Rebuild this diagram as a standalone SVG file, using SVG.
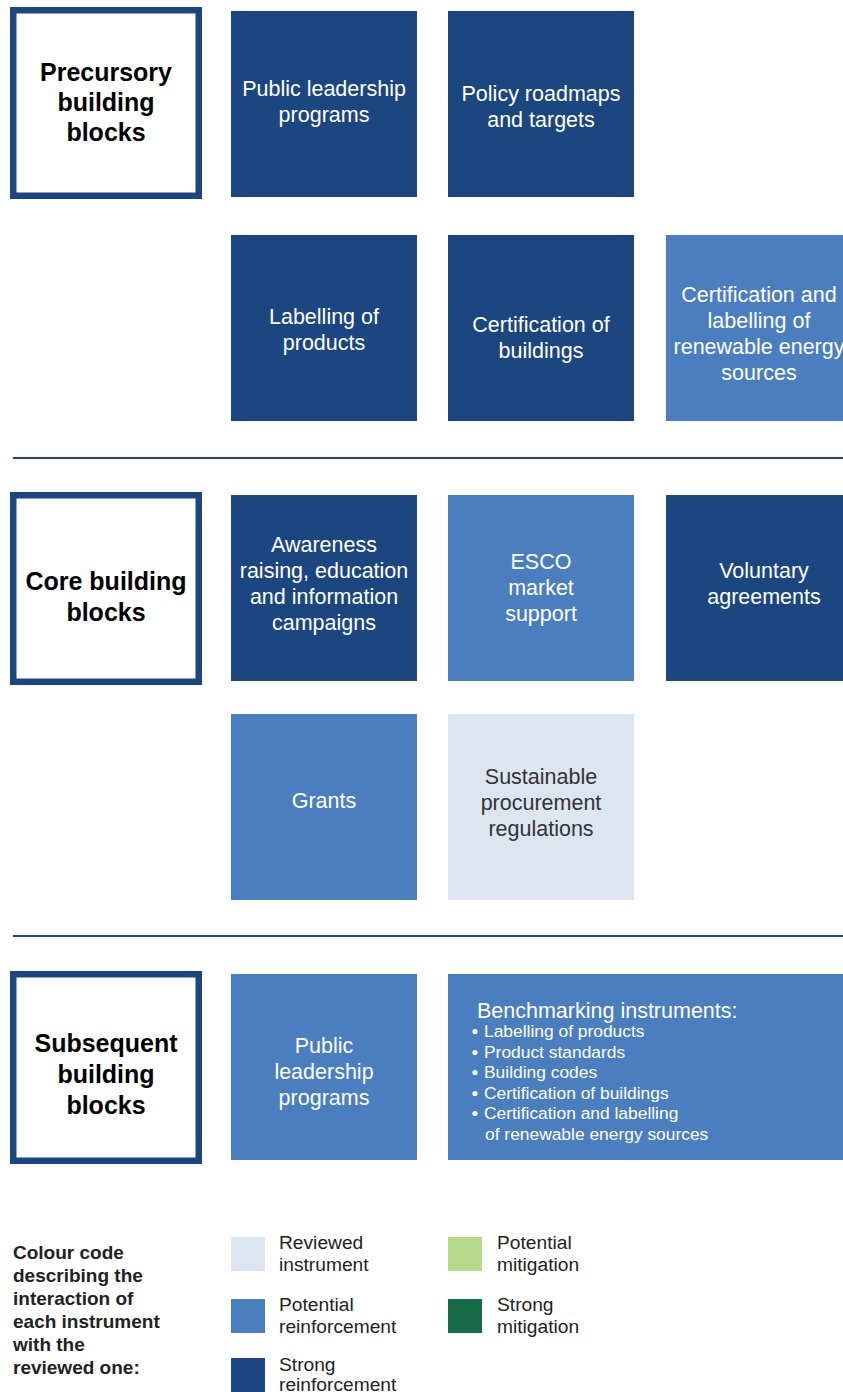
<svg xmlns="http://www.w3.org/2000/svg" width="843" height="1392" viewBox="0 0 843 1392">
<style>
.hdr{fill:#fff;stroke:#1c4680;stroke-width:6.5}
.dk{fill:#1c4680}
.md{fill:#4a7ebf}
.lt{fill:#dce6f1}
.lg{fill:#b8d98a}
.dg{fill:#156b46}
.sep{stroke:#1c4680;stroke-width:2}
text{font-family:"Liberation Sans",Arial,sans-serif}
.ht{font-size:25px;font-weight:bold;fill:#000;text-anchor:middle}
.bt{font-size:21.5px;fill:#fff;text-anchor:middle}
.btd{font-size:21.5px;fill:#333;text-anchor:middle}
.bl{font-size:17.4px;fill:#fff}
.lgl{font-size:19px;font-weight:bold;fill:#222}
.lgt{font-size:19.2px;fill:#222}
</style>
<rect width="843" height="1392" fill="#fff"/>
<g id="connectors">
<line class="sep" x1="13" y1="458" x2="843" y2="458"/>
<line class="sep" x1="13" y1="936" x2="843" y2="936"/>
</g>
<g id="hdr-precursory">
<rect class="hdr" x="13.25" y="10.25" width="185.5" height="185.5"/>
<text class="ht" x="106" y="81">Precursory</text>
<text class="ht" x="106" y="111">building</text>
<text class="ht" x="106" y="141">blocks</text>
</g>
<g id="n-public-leadership">
<rect class="dk" x="231" y="11" width="186" height="186"/>
<text class="bt" x="324" y="95.5">Public leadership</text>
<text class="bt" x="324" y="121.5">programs</text>
</g>
<g id="n-policy-roadmaps">
<rect class="dk" x="448" y="11" width="186" height="186"/>
<text class="bt" x="541" y="100.5">Policy roadmaps</text>
<text class="bt" x="541" y="126.5">and targets</text>
</g>
<g id="n-labelling-products">
<rect class="dk" x="231" y="235" width="186" height="186"/>
<text class="bt" x="324" y="323.5">Labelling of</text>
<text class="bt" x="324" y="349.5">products</text>
</g>
<g id="n-cert-buildings">
<rect class="dk" x="448" y="235" width="186" height="186"/>
<text class="bt" x="541" y="332">Certification of</text>
<text class="bt" x="541" y="358">buildings</text>
</g>
<g id="n-cert-res">
<rect class="md" x="666" y="235" width="186" height="186"/>
<text class="bt" x="759" y="302">Certification and</text>
<text class="bt" x="759" y="328">labelling of</text>
<text class="bt" x="759" y="354">renewable energy</text>
<text class="bt" x="759" y="380">sources</text>
</g>
<g id="hdr-core">
<rect class="hdr" x="13.25" y="495.25" width="185.5" height="186.5"/>
<text class="ht" x="106" y="590">Core building</text>
<text class="ht" x="106" y="621">blocks</text>
</g>
<g id="n-awareness">
<rect class="dk" x="231" y="495" width="186" height="186"/>
<text class="bt" x="324" y="552">Awareness</text>
<text class="bt" x="324" y="578">raising, education</text>
<text class="bt" x="324" y="604">and information</text>
<text class="bt" x="324" y="630">campaigns</text>
</g>
<g id="n-esco">
<rect class="md" x="448" y="495" width="186" height="186"/>
<text class="bt" x="541" y="569">ESCO</text>
<text class="bt" x="541" y="595">market</text>
<text class="bt" x="541" y="621">support</text>
</g>
<g id="n-voluntary">
<rect class="dk" x="666" y="495" width="186" height="186"/>
<text class="bt" x="764" y="578">Voluntary</text>
<text class="bt" x="764" y="604">agreements</text>
</g>
<g id="n-grants">
<rect class="md" x="231" y="714" width="186" height="186"/>
<text class="bt" x="324" y="807.5">Grants</text>
</g>
<g id="n-sustainable">
<rect class="lt" x="448" y="714" width="186" height="186"/>
<text class="btd" x="541" y="784">Sustainable</text>
<text class="btd" x="541" y="810">procurement</text>
<text class="btd" x="541" y="836">regulations</text>
</g>
<g id="hdr-subsequent">
<rect class="hdr" x="13.25" y="974.25" width="185.5" height="186.5"/>
<text class="ht" x="106" y="1052">Subsequent</text>
<text class="ht" x="106" y="1083">building</text>
<text class="ht" x="106" y="1114">blocks</text>
</g>
<g id="n-public-leadership-2">
<rect class="md" x="231" y="974" width="186" height="186"/>
<text class="bt" x="324" y="1053">Public</text>
<text class="bt" x="324" y="1079">leadership</text>
<text class="bt" x="324" y="1105">programs</text>
</g>
<g id="n-benchmarking">
<rect class="md" x="448" y="974" width="395" height="186"/>
<text class="bt" x="477" y="1017.5" style="text-anchor:start">Benchmarking instruments:</text>
<circle cx="475" cy="1031.5" r="2.6" fill="#fff"/>
<circle cx="475" cy="1052.5" r="2.6" fill="#fff"/>
<circle cx="475" cy="1072.5" r="2.6" fill="#fff"/>
<circle cx="475" cy="1093.5" r="2.6" fill="#fff"/>
<circle cx="475" cy="1113.5" r="2.6" fill="#fff"/>
<text class="bl" x="484" y="1037">Labelling of products</text>
<text class="bl" x="484" y="1058">Product standards</text>
<text class="bl" x="484" y="1078">Building codes</text>
<text class="bl" x="484" y="1099">Certification of buildings</text>
<text class="bl" x="484" y="1119">Certification and labelling</text>
<text class="bl" x="485" y="1140">of renewable energy sources</text>
</g>
<g id="legend">
<text class="lgl" x="13" y="1258.5">Colour code</text>
<text class="lgl" x="13" y="1281.5">describing the</text>
<text class="lgl" x="13" y="1304.5">interaction of</text>
<text class="lgl" x="13" y="1327.5">each instrument</text>
<text class="lgl" x="13" y="1350.5">with the</text>
<text class="lgl" x="13" y="1373.5">reviewed one:</text>
<rect class="lt" x="231" y="1237" width="34" height="34"/>
<text class="lgt" x="279" y="1248.5">Reviewed</text>
<text class="lgt" x="279" y="1270.5">instrument</text>
<rect class="md" x="231" y="1299" width="34" height="34"/>
<text class="lgt" x="279" y="1310.5">Potential</text>
<text class="lgt" x="279" y="1332.5">reinforcement</text>
<rect class="dk" x="231" y="1358" width="34" height="34"/>
<text class="lgt" x="279" y="1370.5">Strong</text>
<text class="lgt" x="279" y="1391">reinforcement</text>
<rect class="lg" x="448" y="1237" width="34" height="34"/>
<text class="lgt" x="497" y="1248.5">Potential</text>
<text class="lgt" x="497" y="1270.5">mitigation</text>
<rect class="dg" x="448" y="1299" width="34" height="34"/>
<text class="lgt" x="497" y="1310.5">Strong</text>
<text class="lgt" x="497" y="1332.5">mitigation</text>
</g>
</svg>
